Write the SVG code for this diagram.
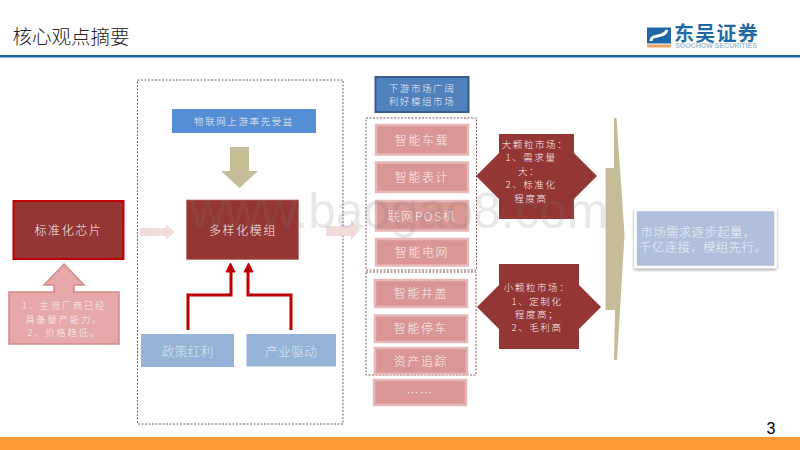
<svg xmlns="http://www.w3.org/2000/svg" width="800" height="450" viewBox="0 0 800 450">
<style>
text{font-family:"Noto Sans CJK SC","Noto Sans",sans-serif;text-anchor:middle;fill:#f7eeee;font-weight:300}
.lat{font-family:"Liberation Sans","Noto Sans CJK SC",sans-serif}
.dash{fill:none;stroke:#7f5a5a;stroke-width:1;stroke-dasharray:2 1.5}
.pink{fill:#d99694;stroke:#e6b9b8;stroke-width:2.5}
.dark{fill:#943634;stroke:#b9706e;stroke-width:.7}
.t9{font-size:9.5px;letter-spacing:1.6px}
.t12{font-size:12px;letter-spacing:1.6px}
.t13{font-size:12.5px;letter-spacing:.3px;fill:#e8eef7}
.t14{font-size:13px;letter-spacing:0;fill:#dbe5f1}
.red{fill:none;stroke:#c00000;stroke-width:3}
.tan{fill:#c4bd97}
.pale{fill:#f2dcdb}
</style>
<defs>
<filter id="sh" x="-10%" y="-10%" width="120%" height="125%"><feDropShadow dx="0" dy="1.5" stdDeviation="1.5" flood-color="#000" flood-opacity=".4"/></filter>
</defs>
<rect width="800" height="450" fill="#fff"/>
<g id="header">
<text x="71" y="44" style="font-size:19.5px;fill:#222">核心观点摘要</text>
<rect x="0" y="55" width="800" height="2.5" fill="#176ba3"/>
</g>
<g id="logo">
<rect x="647" y="27.500" width="24" height="16" fill="#1f67a8"/>
<path d="M651 41 C651 33 664 39 667 30" stroke="#fff" stroke-width="3" fill="none"/>
<rect x="647" y="44.500" width="24" height="3" fill="#e8a35c"/>
<text x="716.500" y="41" style="font-size:20px;font-weight:700;fill:#1f6aa5;letter-spacing:1.300px">东吴证券</text>
<text class="lat" x="716" y="47.500" style="font-size:7px;fill:#a5c0d6;font-weight:700">SOOCHOW SECURITIES</text>
</g>
<g id="footer">
<rect x="0" y="437" width="800" height="13" fill="#ff9933"/>
<text class="lat" x="771" y="433.500" style="font-size:16px;fill:#000;font-weight:400">3</text>
</g>
<g id="panels">
<rect class="dash" x="137.500" y="80" width="205.500" height="344"/>
<rect class="dash" x="366" y="118" width="110.500" height="152"/>
<rect class="dash" x="366" y="272" width="110" height="103"/>
</g>
<g id="connectors">
<path class="pale" d="M140 228H166V224L175 232L166 240V236H140Z"/>
<path class="pale" d="M326 226H351V220L360 230L351 240V236H326Z"/>
<path class="tan" d="M230 147H249V171H258L239.500 188L221 171H230Z"/>
<path class="red" d="M188 330V295H231V272"/>
<path class="red" d="M291 330V295H248V272"/>
<path d="M226 272L230.500 263L235 272Z M244 272L248.500 263L253 272Z" fill="#c00000" stroke="#c00000"/>
</g>
<g id="chip">
<rect x="13.500" y="201" width="110" height="58" fill="#943634" stroke="#c00000" stroke-width="2"/>
<text class="t12" x="68.500" y="235">标准化芯片</text>
</g>
<g id="chip-note">
<path d="M64 264L84 285H74V292H119V344H9V292H54V285H44Z" fill="#e6a8a8" stroke="#d08c8c" stroke-width="1.500"/>
<text class="t9" x="64" y="309">1、主流厂商已经</text>
<text class="t9" x="64" y="322.500">具备量产能力。</text>
<text class="t9" x="64" y="336">2、价格趋低。</text>
</g>
<g id="upstream">
<rect x="172" y="109" width="144" height="24" rx="1" fill="#558ed5"/>
<text class="t9" x="244" y="125">物联网上游率先受益</text>
</g>
<g id="module">
<rect class="dark" x="186.500" y="200" width="112" height="59.500"/>
<text class="t12" x="243" y="235">多样化模组</text>
</g>
<g id="policy">
<rect x="141" y="334" width="93" height="33" fill="#95b3d7"/>
<text class="t14" x="187.500" y="356">政策红利</text>
</g>
<g id="industry">
<rect x="246.500" y="334" width="89.500" height="32.500" fill="#95b3d7"/>
<text class="t14" x="291" y="356">产业驱动</text>
</g>
<g id="downstream">
<rect x="375.500" y="77" width="93" height="35" fill="#4f81bd" stroke="#385d8a" stroke-width="2"/>
<text class="t9" x="422" y="92">下游市场广阔</text>
<text class="t9" x="422" y="105">利好模组市场</text>
</g>
<g id="n1"><rect class="pink" x="376" y="125" width="92" height="29.500"/><text class="t12" x="422" y="144.500">智能车载</text></g>
<g id="n2"><rect class="pink" x="376" y="162.500" width="92" height="29.500"/><text class="t12" x="422" y="182">智能表计</text></g>
<g id="n3"><rect class="pink" x="376" y="201" width="92" height="29.500"/><text class="t12" x="422" y="220.500">联网POS机</text></g>
<g id="n4"><rect class="pink" x="376" y="239" width="92" height="26.500"/><text class="t12" x="422" y="257">智能电网</text></g>
<g id="n5"><rect class="pink" x="375" y="280" width="92" height="27"/><text class="t12" x="421" y="298">智能井盖</text></g>
<g id="n6"><rect class="pink" x="375" y="315.500" width="92" height="26.500"/><text class="t12" x="421" y="333">智能停车</text></g>
<g id="n7"><rect class="pink" x="375" y="348" width="92" height="26"/><text class="t12" x="421" y="365.500">资产追踪</text></g>
<g id="n8"><rect class="pink" x="374" y="380" width="92" height="25"/><text class="t12" x="420" y="398">……</text></g>
<g id="large-grain">
<path d="M499 134H574V153L597 176L574 199V219H499V199L476 176L499 153Z" fill="#943634"/>
<text class="t9" x="535" y="147.500">大颗粒市场：</text>
<text class="t9" x="531" y="161">1、需求量</text>
<text class="t9" x="529" y="175">大：</text>
<text class="t9" x="531" y="188">2、标准化</text>
<text class="t9" x="531" y="201.500">程度高</text>
</g>
<g id="small-grain">
<path d="M499 264H579V285L601 307L579 329V349H499V329L477 307L499 285Z" fill="#943634"/>
<text class="t9" x="537" y="291">小颗粒市场：</text>
<text class="t9" x="537" y="304.500">1、定制化</text>
<text class="t9" x="537" y="318">程度高；</text>
<text class="t9" x="537" y="331">2、毛利高</text>
</g>
<g id="merge">
<path class="tan" d="M614 118H616.500L624.500 235L617 360H614L615 310H605.500V168H614Z"/>
</g>
<g id="conclusion">
<rect x="635.500" y="210" width="140" height="57" fill="#b0c0dc" stroke="#fff" stroke-width="2.500" filter="url(#sh)"/>
<text class="t13" x="698" y="237">市场需求逐步起量，</text>
<text class="t13" x="703" y="252">千亿连接，模组先行。</text>
</g>
<g id="watermark">
<text class="lat" x="399" y="228" style="font-size:49.500px;fill:#777;fill-opacity:.17;font-weight:400">www.baogao8.com</text>
</g>
</svg>
